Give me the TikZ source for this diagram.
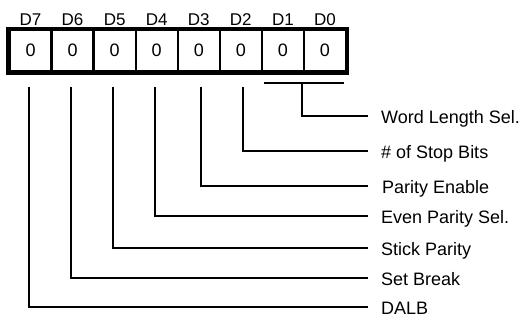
\documentclass[tikz,border=0pt]{standalone}
\usepackage{fontspec}
\setmainfont{Liberation Sans}
\begin{document}
\begin{tikzpicture}[x=1pt,y=-1pt,
  cell/.style={draw,line width=2.3pt,minimum width=42.06pt,minimum height=41.5pt,inner sep=0pt,font=\fontsize{18}{20}\selectfont},
  bitlbl/.style={anchor=base,inner sep=0pt,font=\fontsize{17}{20}\selectfont},
  desc/.style={anchor=base west,inner sep=0pt,font=\fontsize{18}{20}\selectfont},
  conn/.style={line width=2.7pt},
  frame/.style={line width=4.2pt}]
\useasboundingbox (0,0) rectangle (525,322);
% register cells
\foreach \i/\b in {0/7,1/6,2/5,3/4,4/3,5/2,6/1,7/0}{
  \node[cell] (c\b) at ({9.5+42.06*(\i+0.5)},50.75) {0};
  \node[bitlbl] (d\b) at ({9.5+42.06*(\i+0.5)},25) {D\b};
}
\draw[frame] (c7.north west) rectangle (c0.south east);
% descriptions
\node[desc] (l0) at (381,123) {Word Length Sel.};
\node[desc] (l2) at (381,158) {\# of Stop Bits};
\node[desc] (l3) at (382,193) {Parity Enable};
\node[desc] (l4) at (381,223) {Even Parity Sel.};
\node[desc] (l5) at (381,255) {Stick Parity};
\node[desc] (l6) at (381,285) {Set Break};
\node[desc] (l7) at (381,314) {DALB};
% connector coordinates
\coordinate (s7) at (29,87);
\coordinate (s6) at (71,87);
\coordinate (s5) at (113,87);
\coordinate (s4) at (155,87);
\coordinate (s3) at (201,87);
\coordinate (s2) at (243,87);
\coordinate (bl) at (264,83);
\coordinate (br) at (344,83);
\coordinate (bm) at (302,83);
\coordinate (e0) at (368,116);
\coordinate (e2) at (368,151);
\coordinate (e3) at (368,186);
\coordinate (e4) at (368,216);
\coordinate (e5) at (368,248);
\coordinate (e6) at (368,278);
\coordinate (e7) at (368,307);
% connectors
\draw[conn] (bl) -- (br);
\draw[conn] (bm) |- (e0);
\draw[conn] (s2) |- (e2);
\draw[conn] (s3) |- (e3);
\draw[conn] (s4) |- (e4);
\draw[conn] (s5) |- (e5);
\draw[conn] (s6) |- (e6);
\draw[conn] (s7) |- (e7);
\end{tikzpicture}
\end{document}
